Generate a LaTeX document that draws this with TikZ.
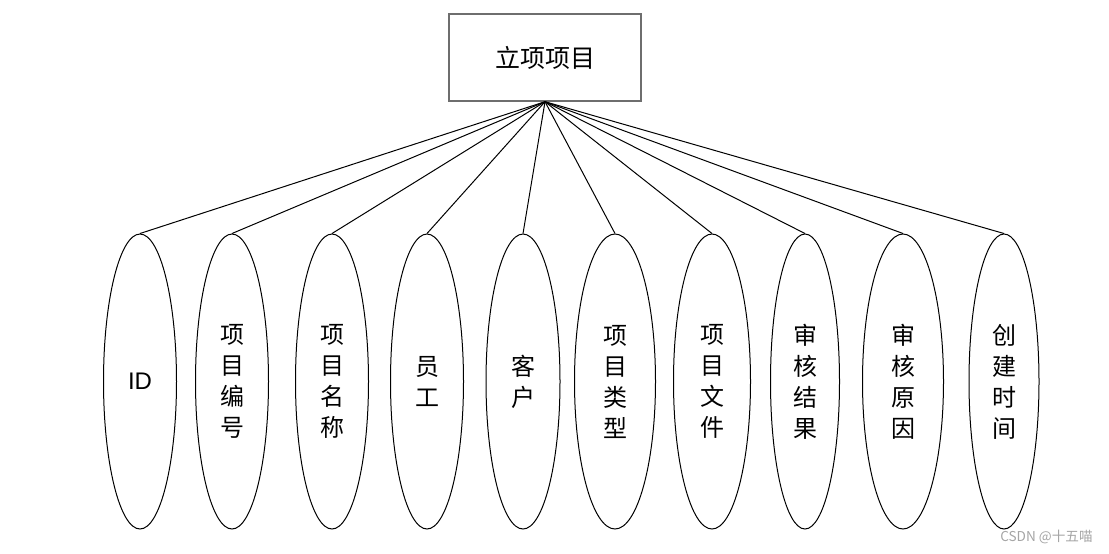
\documentclass[tikz,border=0pt]{standalone}
\usepackage{fontspec}
\setmainfont{Liberation Sans}
\newfontfamily\cjk{Noto Sans CJK SC}
\usetikzlibrary{positioning,shapes.geometric}
\definecolor{boxgray}{RGB}{110,110,110}
\definecolor{markgray}{RGB}{165,165,165}

\begin{document}
\begin{tikzpicture}[
    x=0.5pt, y=-0.5pt,
    entity/.style={rectangle, draw=boxgray, line width=0.7pt, minimum width=96pt, minimum height=43.5pt, inner sep=0pt, font=\cjk\fontsize{12.5}{15}\selectfont},
    attr/.style={ellipse, draw=black, line width=0.5pt, minimum width=36.5pt, minimum height=147.5pt, inner sep=0pt, align=center, font=\cjk\fontsize{12}{15.5}\selectfont},
    link/.style={draw=black, line width=0.5pt}
]
    \useasboundingbox (0,0) rectangle (1109,553);

    % entity
    \node [entity] (proj) at (545,57.5) {立项项目};

    % attributes
    \node [attr] (id)     at (140,381.5)  {{\rmfamily ID}};
    \node [attr] (pno)    at (232,381.5)  {项\\目\\编\\号};
    \node [attr] (pname)  at (332,381.5)  {项\\目\\名\\称};
    \node [attr] (staff)  at (427,381.5)  {员\\工};
    \node [attr, minimum width=37pt] (client) at (523,381.5) {客\\户};
    \node [attr, minimum width=40.5pt] (ptype)  at (615,381.5) {项\\目\\类\\型};
    \node [attr, minimum width=38.5pt] (pfile)  at (712,381.5) {项\\目\\文\\件};
    \node [attr, minimum width=34.5pt] (result) at (805,381.5) {审\\核\\结\\果};
    \node [attr, minimum width=40.5pt] (reason) at (903,381.5) {审\\核\\原\\因};
    \node [attr, minimum width=35pt]   (ctime)  at (1004,381.5) {创\\建\\时\\间};

    % connectors
    \foreach \a in {id,pno,pname,staff,client,ptype,pfile,result,reason,ctime}
        \draw [link] (proj.south) -- (\a.north);

    % watermark
    \node [text=markgray, font=\cjk\fontsize{6.8}{8}\selectfont, anchor=east, inner sep=0pt] (mark) at (1093,537) {CSDN @十五喵};
\end{tikzpicture}
\end{document}
